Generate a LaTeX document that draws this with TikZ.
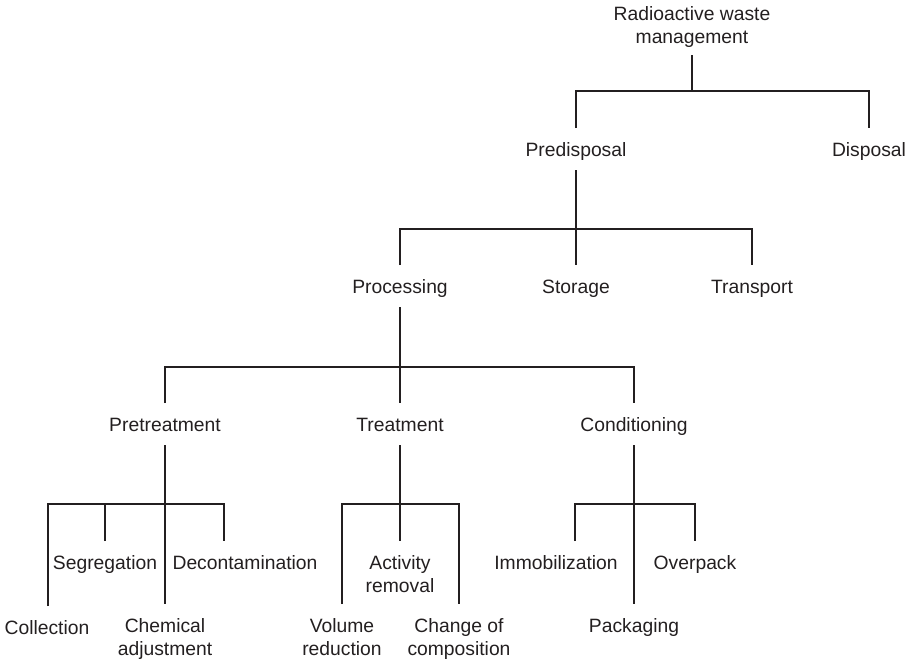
\documentclass[tikz,border=0pt]{standalone}
\usepackage{fontspec}
\setmainfont{Liberation Sans}
\definecolor{ink}{HTML}{231F20}
\begin{document}
\begin{tikzpicture}[x=1pt,y=-1pt,
  lbl/.style={inner xsep=2pt, inner ysep=14pt, anchor=north, text=ink,
    font=\fontsize{19.3}{23}\selectfont, align=center},
  one/.style={lbl, text height=14pt, text depth=0pt},
  link/.style={draw=ink, line width=1.1pt}]
\useasboundingbox (0,0) rectangle (913,659);
% nodes
\node[lbl, anchor=south, inner ysep=7pt] (root) at (692,55) {Radioactive waste\\management};
\node[one] (pred) at (576,128) {Predisposal};
\node[one] (disp) at (869,128) {Disposal};
\node[one] (proc) at (400,265) {Processing};
\node[one] (stor) at (576,265) {Storage};
\node[one] (trans) at (752,265) {Transport};
\node[one] (pret) at (165,403) {Pretreatment};
\node[one] (treat) at (400,403) {Treatment};
\node[one] (cond) at (634,403) {Conditioning};
\node[one] (coll) at (47,606) {Collection};
\node[one] (seg) at (105,541) {Segregation};
\node[lbl] (chem) at (165,604) {Chemical\\adjustment};
\node[one] (decon) at (245,541) {Decontamination};
\node[lbl] (act) at (400,541) {Activity\\removal};
\node[lbl] (vol) at (342,604) {Volume\\reduction};
\node[lbl] (chg) at (459,604) {Change of\\composition};
\node[one] (immob) at (556,541) {Immobilization};
\node[one] (pack) at (634,604) {Packaging};
\node[one] (over) at (695,541) {Overpack};
% junctions and free ends
\coordinate (j1) at (692,91);
\coordinate (j2) at (576,229);
\coordinate (j3) at (400,367);
\coordinate (j4) at (165,504);
\coordinate (j5) at (400,504);
\coordinate (j6) at (634,504);
\coordinate (dtop) at (224,541);
\coordinate (itop) at (575,541);
% connectors
\draw[link] (root.south) -- (j1);
\draw[link] (pred.north) |- (j1) -| (disp.north);
\draw[link] (pred.south) -- (stor.north);
\draw[link] (proc.north) |- (j2) -| (trans.north);
\draw[link] (proc.south) -- (treat.north);
\draw[link] (pret.north) |- (j3) -| (cond.north);
\draw[link] (pret.south) -- (chem.north);
\draw[link] (coll.north -| 48,0) |- (j4) -| (dtop);
\draw[link] (seg.north) -- (seg.north |- j4);
\draw[link] (treat.south) -- (act.north);
\draw[link] (vol.north) |- (j5) -| (chg.north);
\draw[link] (cond.south) -- (pack.north);
\draw[link] (itop) |- (j6) -| (over.north);
\end{tikzpicture}
\end{document}
